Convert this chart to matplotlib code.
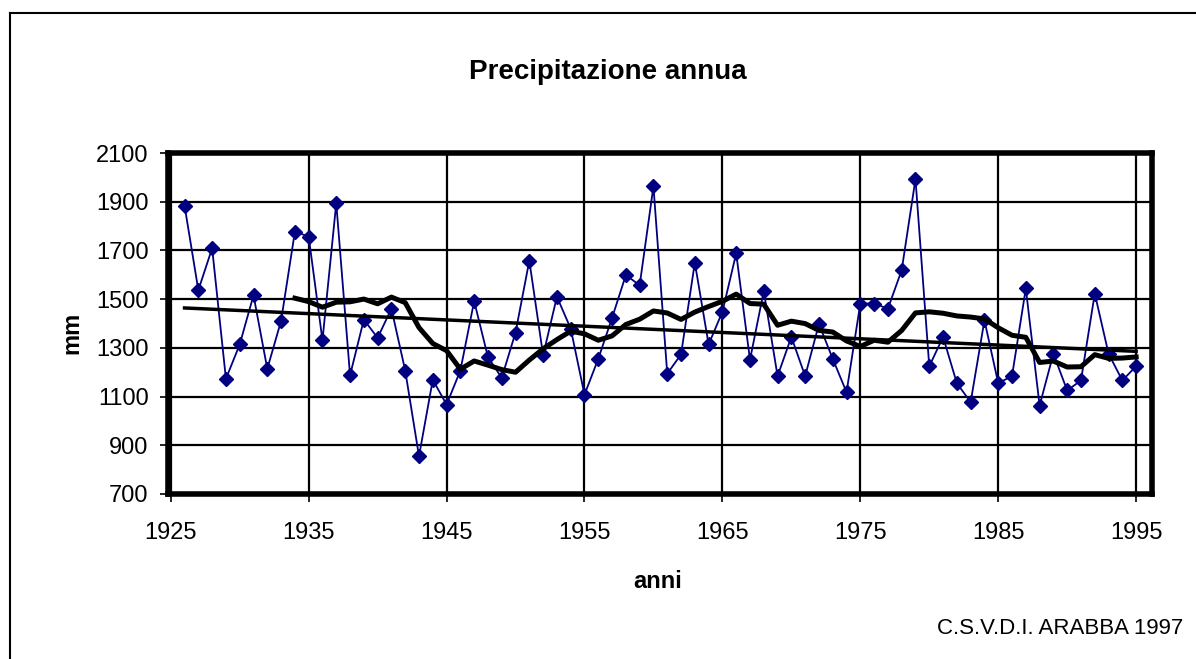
import numpy as np
import pandas as pd
import matplotlib
matplotlib.use("Agg")
import matplotlib.pyplot as plt
from matplotlib.lines import Line2D

# annual precipitation (mm), 1926-1995
years = list(range(1926, 1996))
rain_mm = [1884, 1537, 1709, 1173, 1314, 1516, 1214, 1411, 1777, 1757,
           1331, 1894, 1187, 1416, 1341, 1461, 1207, 855, 1169, 1067,
           1207, 1492, 1262, 1177, 1363, 1658, 1269, 1510, 1379, 1108,
           1255, 1423, 1599, 1557, 1963, 1194, 1273, 1650, 1314, 1448,
           1688, 1251, 1533, 1184, 1345, 1184, 1398, 1255, 1118, 1482,
           1482, 1461, 1619, 1993, 1224, 1345, 1155, 1077, 1413, 1155,
           1184, 1544, 1063, 1276, 1125, 1166, 1523, 1276, 1166, 1225]

x_ticks = [1925, 1935, 1945, 1955, 1965, 1975, 1985, 1995]
y_ticks = [700, 900, 1100, 1300, 1500, 1700, 1900, 2100]

title = "Precipitazione annua"
x_label = "anni"
y_label = "mm"
credit = "C.S.V.D.I. ARABBA 1997"

# Excel-style trendlines: 9-year moving average and linear fit
s = pd.Series(rain_mm, index=years)
moving_avg = s.rolling(9).mean()
coef = np.polyfit(years, rain_mm, 1)
trend = np.polyval(coef, years)

plt.rcParams['font.family'] = ['Liberation Sans', 'DejaVu Sans']

fig = plt.figure(figsize=(11.96, 6.59), dpi=100)
ax = fig.add_axes([168 / 1196, 1 - 494 / 659, (1152 - 168) / 1196, (494 - 153) / 659])

ax.plot(years, rain_mm, color='#000080', lw=1.3, marker='D', markersize=7,
        markeredgecolor='#000080', markerfacecolor='#000080', zorder=3)
ax.plot(years, trend, color='black', lw=2.5, zorder=4)
ax.plot(moving_avg.index, moving_avg.values, color='black', lw=3.6, zorder=5)

ax.set_xlim(1924.8, 1996.15)
ax.set_ylim(700, 2100)
ax.set_xticks(x_ticks)
ax.set_yticks(y_ticks)
ax.grid(True, color='black', lw=1.6)
ax.set_axisbelow(True)
for sp in ax.spines.values():
    sp.set_linewidth(4)
ax.tick_params(axis='both', direction='out', length=6, width=1.2, labelsize=17)
ax.tick_params(axis='x', pad=14)
ax.tick_params(axis='y', pad=8)

fig.text(608 / 1196, 1 - 72 / 659, title, ha='center', va='center',
         fontsize=20, fontweight='bold')
fig.text(658 / 1196, 1 - 581 / 659, x_label, ha='center', va='center',
         fontsize=17, fontweight='bold')
fig.text(72 / 1196, 1 - 333 / 659, y_label, ha='center', va='center',
         fontsize=17, fontweight='bold', rotation=90)
fig.text(1183 / 1196, 1 - 629 / 659, credit, ha='right', va='center',
         fontsize=16)

# outer chart border (left and top edges visible)
fig.add_artist(Line2D([10 / 1196, 10 / 1196], [0, 1 - 13 / 659], color='black', lw=1.5))
fig.add_artist(Line2D([10 / 1196, 1], [1 - 13 / 659, 1 - 13 / 659], color='black', lw=1.5))

fig.savefig("out.png", dpi=100)
